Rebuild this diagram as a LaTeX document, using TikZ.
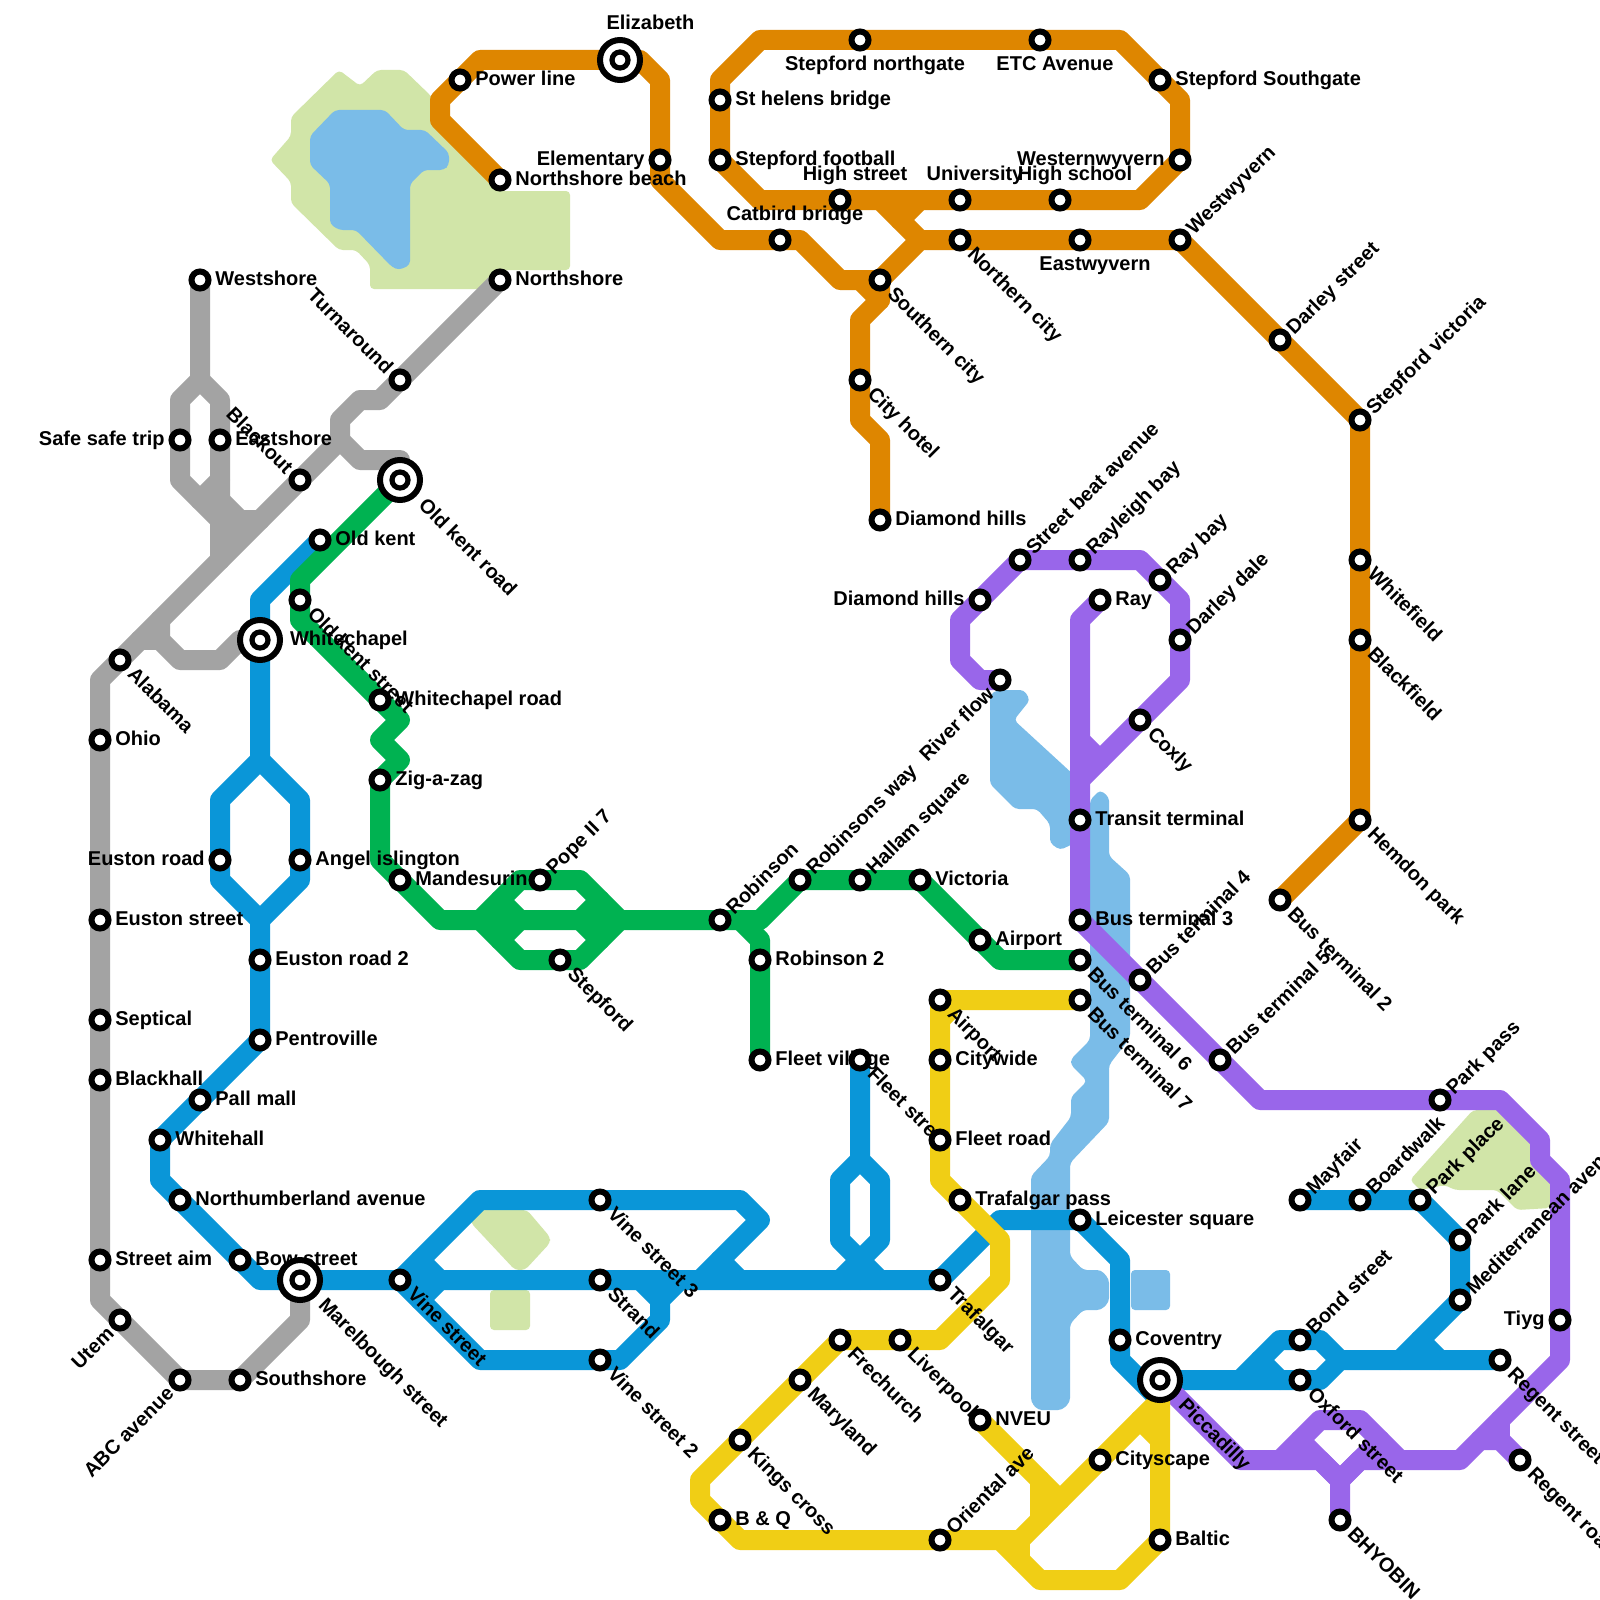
\documentclass[tikz,border=0pt]{standalone}
\usepackage{fontspec}
\setmainfont{Liberation Sans}
\pgfdeclarelayer{lines}
\pgfdeclarelayer{labels}
\pgfsetlayers{lines,labels,main}
\definecolor{cgrey}{HTML}{A3A3A3}
\definecolor{cblue}{HTML}{0A96D8}
\definecolor{cgreen}{HTML}{00B251}
\definecolor{corange}{HTML}{DE8600}
\definecolor{cpurple}{HTML}{9966EA}
\definecolor{cyellow}{HTML}{F0CE15}
\definecolor{cpark}{HTML}{D1E5A8}
\definecolor{cwater}{HTML}{7ABCE8}
\tikzset{
  ln/.style={line width=10pt,line join=round,line cap=round},
  stnode/.style={circle,draw=black,fill=white,line width=3pt,minimum size=8.5pt,inner sep=0pt},
  bigouter/.style={circle,draw=black,fill=white,line width=3pt,minimum size=20pt,inner sep=0pt},
  biginner/.style={circle,draw=black,fill=white,line width=2.6pt,minimum size=8pt,inner sep=0pt},
  lab/.style={inner sep=0pt,outer sep=0pt,font=\fontsize{10pt}{10pt}\selectfont\bfseries,text height=7.2pt,text depth=0pt},
  lr/.style={anchor=west,xshift=7.7pt,yshift=1pt},
  ll/.style={anchor=east,xshift=-7.7pt,yshift=1pt},
  la/.style={anchor=center,xshift=7.5pt,yshift=13.3pt},
  lb/.style={anchor=center,xshift=7.5pt,yshift=-11.7pt},
  lne/.style={anchor=west,xshift=4.6pt,yshift=4.6pt,rotate=45},
  lse/.style={anchor=west,xshift=5.8pt,yshift=-5pt,rotate=-45},
  lsw/.style={anchor=east,xshift=-5pt,yshift=-5pt,rotate=45},
  lnw/.style={anchor=east,xshift=-5pt,yshift=5pt,rotate=-45},
  bse/.style={anchor=west,xshift=11.3pt,yshift=-10.5pt,rotate=-45},
  bright/.style={anchor=west,xshift=15pt,yshift=1pt},
  babove/.style={anchor=center,xshift=15.2pt,yshift=19pt},
  park/.style={fill=cpark,rounded corners=2pt},
  water/.style={fill=cwater,rounded corners=2pt}
}
\newcommand{\stn}[5]{\node[stnode] (#1) at (#2,#3) {};
  \begin{pgfonlayer}{labels}\node[lab,#4] (#1l) at (#1.center) {#5};\end{pgfonlayer}}
\newcommand{\bigstn}[5]{\node[bigouter] (#1) at (#2,#3) {};\node[biginner] (#1i) at (#2,#3) {};
  \begin{pgfonlayer}{labels}\node[lab,#4] (#1l) at (#1.center) {#5};\end{pgfonlayer}}
\begin{document}
\begin{tikzpicture}[x=10pt,y=-10pt]
\useasboundingbox (0,0) rectangle (80,80);
% grey
\stn{westshore}{10}{14}{lr}{Westshore}
\stn{safesafe}{9}{22}{ll}{Safe safe trip}
\stn{eastshore}{11}{22}{lr}{Eastshore}
\stn{blackout}{15}{24}{lnw}{Blackout}
\stn{turnaround}{20}{19}{lnw}{Turnaround}
\stn{northshore}{25}{14}{lr}{Northshore}
\bigstn{oldkentroad}{20}{24}{bse}{Old kent road}
\stn{alabama}{6}{33}{lse}{Alabama}
\stn{ohio}{5}{37}{lr}{Ohio}
\stn{eustonst}{5}{46}{lr}{Euston street}
\stn{septical}{5}{51}{lr}{Septical}
\stn{blackhall}{5}{54}{lr}{Blackhall}
\stn{streetaim}{5}{63}{lr}{Street aim}
\stn{utem}{6}{66}{lsw}{Utem}
\stn{abc}{9}{69}{lsw}{ABC avenue}
\stn{southshore}{12}{69}{lr}{Southshore}
\bigstn{marelbough}{15}{64}{bse}{Marelbough street}
\bigstn{whitechapel}{13}{32}{bright}{Whitechapel}
% blue
\stn{oldkent}{16}{27}{lr}{Old kent}
\stn{eustonroad}{11}{43}{ll}{Euston road}
\stn{angel}{15}{43}{lr}{Angel islington}
\stn{eustonroadb}{13}{48}{lr}{Euston road 2}
\stn{pentroville}{13}{52}{lr}{Pentroville}
\stn{pallmall}{10}{55}{lr}{Pall mall}
\stn{whitehall}{8}{57}{lr}{Whitehall}
\stn{northumb}{9}{60}{lr}{Northumberland avenue}
\stn{bow}{12}{63}{lr}{Bow street}
\stn{vinest}{20}{64}{lse}{Vine street}
\stn{vinec}{30}{60}{lse}{Vine street 3}
\stn{strand}{30}{64}{lse}{Strand}
\stn{vineb}{30}{68}{lse}{Vine street 2}
\stn{fleetst}{43}{53}{lse}{Fleet street}
\stn{trafalgar}{47}{64}{lse}{Trafalgar}
\stn{leicester}{54}{61}{lr}{Leicester square}
\stn{coventry}{56}{67}{lr}{Coventry}
\bigstn{piccadilly}{58}{69}{bse}{Piccadilly}
\stn{oxford}{65}{69}{lse}{Oxford street}
\stn{bond}{65}{67}{lne}{Bond street}
\stn{mayfair}{65}{60}{lne}{Mayfair}
\stn{boardwalk}{68}{60}{lne}{Boardwalk}
\stn{parkplace}{71}{60}{lne}{Park place}
\stn{parklane}{73}{62}{lne}{Park lane}
\stn{medit}{73}{65}{lne}{Mediterranean avenue}
\stn{regentst}{75}{68}{lse}{Regent street}
% green
\stn{oldkentst}{15}{30}{lse}{Old kent street}
\stn{whitechapelrd}{19}{35}{lr}{Whitechapel road}
\stn{zigazag}{19}{39}{lr}{Zig-a-zag}
\stn{mandesurin}{20}{44}{lr}{Mandesurin}
\stn{pope}{27}{44}{lne}{Pope II 7}
\stn{stepford}{28}{48}{lse}{Stepford}
\stn{robinson}{36}{46}{lne}{Robinson}
\stn{robinsonway}{40}{44}{lne}{Robinsons way}
\stn{hallam}{43}{44}{lne}{Hallam square}
\stn{victoria}{46}{44}{lr}{Victoria}
\stn{airport}{49}{47}{lr}{Airport}
\stn{bussix}{54}{48}{lse}{Bus terminal 6}
\stn{robinsonb}{38}{48}{lr}{Robinson 2}
\stn{fleetvillage}{38}{53}{lr}{Fleet village}
% orange
\bigstn{elizabeth}{31}{3}{babove}{Elizabeth}
\stn{powerline}{23}{4}{lr}{Power line}
\stn{nsbeach}{25}{9}{lr}{Northshore beach}
\stn{elementary}{33}{8}{ll}{Elementary}
\stn{catbird}{39}{12}{la}{Catbird bridge}
\stn{southerncity}{44}{14}{lse}{Southern city}
\stn{cityhotel}{43}{19}{lse}{City hotel}
\stn{diamondhills}{44}{26}{lr}{Diamond hills}
\stn{northerncity}{48}{12}{lse}{Northern city}
\stn{eastwyvern}{54}{12}{lb}{Eastwyvern}
\stn{westwyvern}{59}{12}{lne}{Westwyvern}
\stn{darleyst}{64}{17}{lne}{Darley street}
\stn{stepvictoria}{68}{21}{lne}{Stepford victoria}
\stn{whitefield}{68}{28}{lse}{Whitefield}
\stn{blackfield}{68}{32}{lse}{Blackfield}
\stn{hemdon}{68}{41}{lse}{Hemdon park}
\stn{bustwo}{64}{45}{lse}{Bus terminal 2}
\stn{highstreet}{42}{10}{la}{High street}
\stn{university}{48}{10}{la}{University}
\stn{highschool}{53}{10}{la}{High school}
\stn{westernw}{59}{8}{ll}{Westernwyvern}
\stn{sthelens}{36}{5}{lr}{St helens bridge}
\stn{stepfootball}{36}{8}{lr}{Stepford football}
\stn{northgate}{43}{2}{lb}{Stepford northgate}
\stn{etc}{52}{2}{lb}{ETC Avenue}
\stn{southgate}{58}{4}{lr}{Stepford Southgate}
% purple
\stn{riverflow}{50}{34}{lsw}{River flow}
\stn{diamondb}{49}{30}{ll}{Diamond hills}
\stn{streetbeat}{51}{28}{lne}{Street beat avenue}
\stn{rayleigh}{54}{28}{lne}{Rayleigh bay}
\stn{raybay}{58}{29}{lne}{Ray bay}
\stn{darleydale}{59}{32}{lne}{Darley dale}
\stn{ray}{55}{30}{lr}{Ray}
\stn{coxly}{57}{36}{lse}{Coxly}
\stn{transit}{54}{41}{lr}{Transit terminal}
\stn{busthree}{54}{46}{lr}{Bus terminal 3}
\stn{busfour}{57}{49}{lne}{Bus terminal 4}
\stn{busfive}{61}{53}{lne}{Bus terminal 5}
\stn{parkpass}{72}{55}{lne}{Park pass}
\stn{tiyg}{78}{66}{ll}{Tiyg}
\stn{regentrd}{76}{73}{lse}{Regent road}
\stn{bhyobin}{67}{76}{lse}{BHYOBIN}
% yellow
\stn{airportb}{47}{50}{lse}{Airport}
\stn{busseven}{54}{50}{lse}{Bus terminal 7}
\stn{citywide}{47}{53}{lr}{Citywide}
\stn{fleetroad}{47}{57}{lr}{Fleet road}
\stn{trafpass}{48}{60}{lr}{Trafalgar pass}
\stn{frechurch}{42}{67}{lse}{Frechurch}
\stn{liverpool}{45}{67}{lse}{Liverpool}
\stn{maryland}{40}{69}{lse}{Maryland}
\stn{kings}{37}{72}{lse}{Kings cross}
\stn{bq}{36}{76}{lr}{B \& Q}
\stn{oriental}{47}{77}{lne}{Oriental ave}
\stn{nveu}{49}{71}{lr}{NVEU}
\stn{cityscape}{55}{73}{lr}{Cityscape}
\stn{baltic}{58}{77}{lr}{Baltic}
\begin{pgfonlayer}{lines}
\fill[white] (0,0) rectangle (80,80);
\begin{scope}[x=0.5pt,y=-0.5pt]
\fill[park] (291,117)--(339,70)--(360,86)--(377,70)--(404,70)--(430,95)--(500,191)--(570,191)--(570,270)--(505,270)--(484,289)--(370,289)--(370,265)--(356,250)--(339,250)--(291,203)--(291,182)--(270,160)--(291,136)--cycle;
\fill[park] (430,95)--(500,191)--(430,191)--cycle;
\fill[park] (471,1217)--(479,1210)--(527,1210)--(550,1237)--(550,1243)--(525,1270)--(515,1270)--(471,1223)--cycle;
\fill[park] (490,1290) rectangle (530,1330);
\fill[park] (1410,1180)--(1473,1110)--(1500,1110)--(1550,1160)--(1550,1208)--(1517,1210)--(1497,1190)--(1455,1190)--(1445,1185)--(1420,1190)--cycle;
\fill[water] (310,136)--(335,110)--(385,110)--(404,130)--(425,130)--(449,153)--(449,165)--(444,170)--(424,170)--(410,184)--(410,265)--(399,270)--(392,267)--(356,230)--(339,230)--(330,224)--(330,184)--(310,165)--cycle;
\fill[water] (990,695)--(997,690)--(1024,690)--(1030,700)--(1014,720)--(1075,776)--(1075,843)--(1060,850)--(1050,843)--(1050,824)--(1037,809)--(1015,809)--(990,784)--cycle;
\fill[water] (1090,800)--(1100,790)--(1109,797)--(1109,856)--(1130,875)--(1130,1038)--(1109,1065)--(1109,1122)--(1070,1163)--(1070,1256)--(1083,1270)--(1101,1270)--(1109,1279)--(1109,1302)--(1101,1310)--(1083,1310)--(1070,1324)--(1070,1402)--(1062,1410)--(1038,1410)--(1031,1402)--(1031,1176)--(1050,1156)--(1050,1144)--(1071,1117)--(1071,1097)--(1087,1081)--(1071,1065)--(1071,1059)--(1090,1040)--cycle;
\fill[water] (1131,1270) rectangle (1170,1310);
\end{scope}
% grey lines
\draw[ln,cgrey] (northshore.center)--(turnaround.center)--(19,20)--(18,20)--(17,21)--(17,22)--(blackout.center)--(alabama.center)--(5,34)--(ohio.center)--(eustonst.center)--(septical.center)--(blackhall.center)--(streetaim.center)--(5,65)--(utem.center)--(abc.center)--(southshore.center)--(15,66)--(marelbough.center);
\draw[ln,cgrey] (17,22)--(18,23)--(20,23)--(oldkentroad.center);
\draw[ln,cgrey] (8,31)--(8,32)--(9,33)--(11,33)--(12,32)--(whitechapel.center);
\draw[ln,cgrey] (8,32)--(7,32);
\draw[ln,cgrey] (westshore.center)--(10,19)--(9,20)--(safesafe.center)--(9,24)--(11,26);
\draw[ln,cgrey] (10,19)--(11,20)--(eastshore.center)--(11,28);
\draw[ln,cgrey] (11,25)--(12,26)--(13,26);
\draw[ln,cgrey] (11,24)--(10,25);
\draw[ln,cgrey] (11,26)--(12,26)--(11,27);
% blue lines
\draw[ln,cblue] (oldkent.center)--(13,30)--(whitechapel.center)--(13,38)--(11,40)--(eustonroad.center)--(11,44)--(13,46)--(eustonroadb.center)--(pentroville.center)--(pallmall.center)--(whitehall.center)--(8,59)--(northumb.center)--(bow.center)--(13,64)--(marelbough.center)--(vinest.center)--(strand.center)--(trafalgar.center)--(50,61)--(leicester.center)--(56,63)--(coventry.center)--(56,68)--(58,70)--(piccadilly.center)--(oxford.center)--(66,69)--(67,68)--(regentst.center);
\draw[ln,cblue] (13,38)--(15,40)--(angel.center)--(15,44)--(13,46);
\draw[ln,cblue] (vinest.center)--(24,60)--(vinec.center)--(37,60)--(38,61)--(35,64);
\draw[ln,cblue] (34,64)--(33,65)--(33,66)--(31,68)--(vineb.center)--(24,68)--(vinest.center);
\draw[ln,cblue] (21,63)--(22,64)--(21,65);
\draw[ln,cblue] (32,64)--(33,65);
\draw[ln,cblue] (36,63)--(37,64);
\draw[ln,cblue] (fleetst.center)--(43,58)--(42,59)--(42,62)--(43,63)--(44,62)--(44,59)--(43,58);
\draw[ln,cblue] (42,64)--(43,63)--(44,64);
\draw[ln,cblue] (43,63)--(43,64);
\draw[ln,cblue] (62,69)--(64,67)--(bond.center)--(66,67)--(67,68);
\draw[ln,cblue] (63,68)--(64,69);
\draw[ln,cblue] (mayfair.center)--(boardwalk.center)--(parkplace.center)--(parklane.center)--(medit.center)--(70,68);
\draw[ln,cblue] (71,67)--(72,68);
% green lines
\draw[ln,cgreen] (oldkentroad.center)--(15,29)--(oldkentst.center)--(15,31)--(whitechapelrd.center)--(20,36)--(19,37)--(20,38)--(zigazag.center)--(19,43)--(mandesurin.center)--(22,46)--(robinson.center)--(38,46)--(robinsonway.center)--(hallam.center)--(victoria.center)--(airport.center)--(50,48)--(bussix.center);
\draw[ln,cgreen] (37,46)--(38,47)--(robinsonb.center)--(fleetvillage.center);
\draw[ln,cgreen] (24,46)--(26,44)--(pope.center)--(29,44)--(31,46)--(29,48)--(stepford.center)--(26,48)--(24,46);
\draw[ln,cgreen] (25,45)--(26,46)--(25,47);
\draw[ln,cgreen] (30,45)--(29,46)--(30,47);
% orange lines
\draw[ln,corange] (nsbeach.center)--(22,6)--(22,5)--(powerline.center)--(24,3)--(elizabeth.center)--(32,3)--(33,4)--(elementary.center)--(33,9)--(36,12)--(catbird.center)--(40,12)--(42,14)--(southerncity.center)--(46,12)--(northerncity.center)--(eastwyvern.center)--(westwyvern.center)--(darleyst.center)--(stepvictoria.center)--(whitefield.center)--(blackfield.center)--(hemdon.center)--(bustwo.center);
\draw[ln,corange] (southerncity.center)--(44,15)--(43,16)--(cityhotel.center)--(43,21)--(44,22)--(diamondhills.center);
\draw[ln,corange] (43,14)--(44,15);
\draw[ln,corange] (sthelens.center)--(36,4)--(38,2)--(northgate.center)--(etc.center)--(56,2)--(southgate.center)--(59,5)--(westernw.center)--(57,10)--(highschool.center)--(university.center)--(highstreet.center)--(38,10)--(stepfootball.center)--(sthelens.center);
\draw[ln,corange] (44,10)--(46,12);
\draw[ln,corange] (46,10)--(45,11);
% purple lines
\draw[ln,cpurple] (ray.center)--(54,31)--(transit.center)--(busthree.center)--(busfour.center)--(busfive.center)--(63,55)--(parkpass.center)--(75,55)--(77,57)--(77,58)--(78,59)--(tiyg.center)--(78,68)--(73,73)--(68,73)--(67,74)--(bhyobin.center);
\draw[ln,cpurple] (riverflow.center)--(49,34)--(48,33)--(48,31)--(diamondb.center)--(streetbeat.center)--(rayleigh.center)--(57,28)--(raybay.center)--(59,30)--(darleydale.center)--(59,34)--(coxly.center)--(54,39);
\draw[ln,cpurple] (54,37)--(55,38);
\draw[ln,cpurple] (piccadilly.center)--(62,73)--(66,73)--(67,74);
\draw[ln,cpurple] (64,73)--(66,71)--(68,71)--(70,73);
\draw[ln,cpurple] (65,72)--(67,74)--(69,72);
\draw[ln,cpurple] (74,72)--(75,72)--(regentrd.center);
\draw[ln,cpurple] (75,71)--(75,72);
% yellow lines
\draw[ln,cyellow] (busseven.center)--(airportb.center)--(citywide.center)--(fleetroad.center)--(47,59)--(trafpass.center)--(50,62)--(50,64)--(47,67)--(liverpool.center)--(frechurch.center)--(maryland.center)--(kings.center)--(35,74)--(35,75)--(bq.center)--(37,77)--(oriental.center)--(51,77)--(cityscape.center)--(58,70)--(piccadilly.center)--(baltic.center)--(56,79)--(52,79)--(50,77);
\draw[ln,cyellow] (51,77)--(51,78);
\draw[ln,cyellow] (52,74)--(52,76);
\draw[ln,cyellow] (nveu.center)--(53,75);
\draw[ln,cyellow] (57,71)--(58,72);
\draw[ln,cyellow] (47,51)--(47.4,50.6);
\end{pgfonlayer}
\end{tikzpicture}
\end{document}
